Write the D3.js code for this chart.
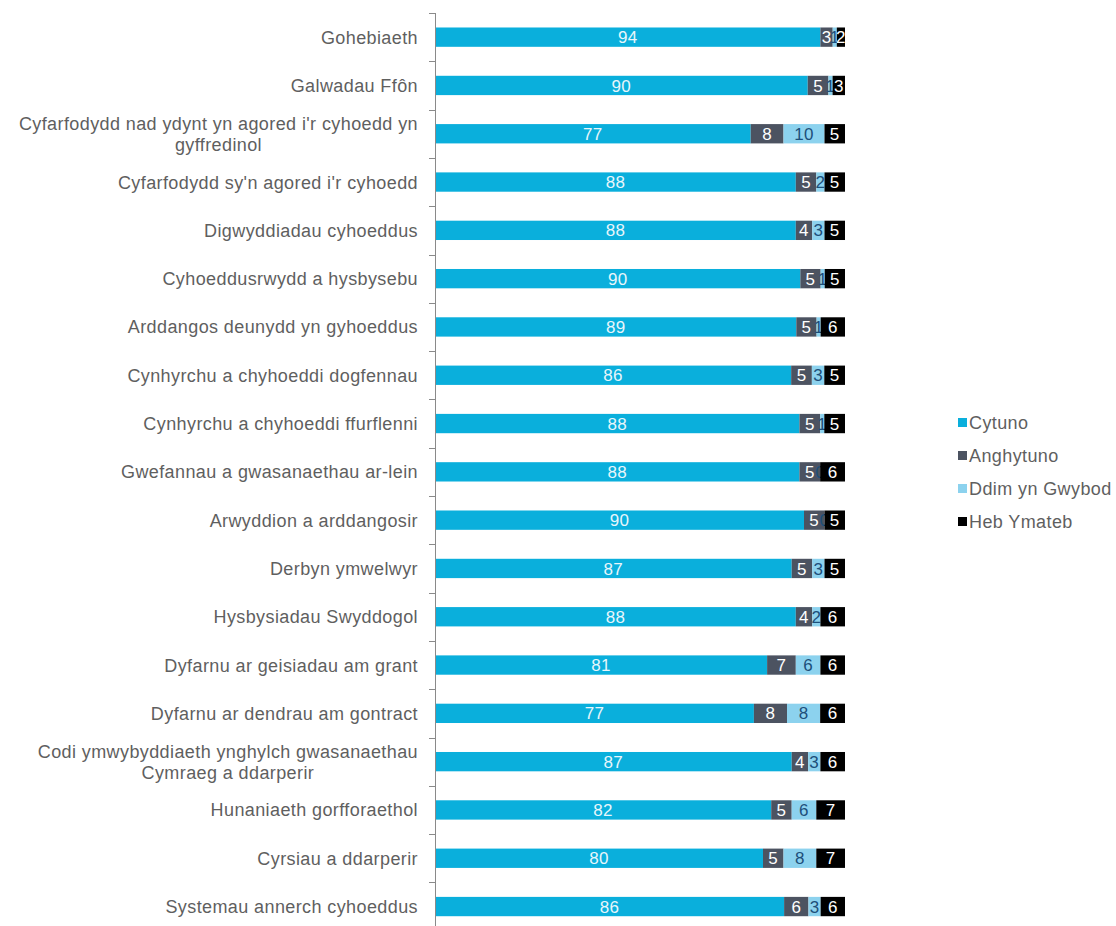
<!DOCTYPE html>
<html>
<head>
<meta charset="utf-8">
<script src="https://cdn.jsdelivr.net/npm/d3@7"></script>
<style>
  body { margin: 0; background: #fff; }
  text { font-family: "Liberation Sans", Arial, sans-serif; }
</style>
</head>
<body>
<svg id="chart" width="1116" height="926"></svg>
<script>
// categories, top to bottom ("\n" marks a line break in the label)
var categories = [
  "Gohebiaeth",
  "Galwadau Ffôn",
  "Cyfarfodydd  nad ydynt yn agored i'r cyhoedd yn\ngyffredinol",
  "Cyfarfodydd sy'n agored i'r cyhoedd",
  "Digwyddiadau cyhoeddus",
  "Cyhoeddusrwydd a hysbysebu",
  "Arddangos deunydd yn gyhoeddus",
  "Cynhyrchu a chyhoeddi dogfennau",
  "Cynhyrchu a chyhoeddi ffurflenni",
  "Gwefannau a gwasanaethau ar-lein",
  "Arwyddion a arddangosir",
  "Derbyn ymwelwyr",
  "Hysbysiadau Swyddogol",
  "Dyfarnu ar geisiadau am grant",
  "Dyfarnu ar dendrau am gontract",
  "Codi ymwybyddiaeth ynghylch gwasanaethau\nCymraeg a ddarperir",
  "Hunaniaeth gorfforaethol",
  "Cyrsiau a ddarperir",
  "Systemau annerch cyhoeddus"
];

var seriesNames = ["Cytuno", "Anghytuno", "Ddim yn Gwybod", "Heb Ymateb"];

var cytuno     = [94, 90, 77, 88, 88, 90, 89, 86, 88, 88, 90, 87, 88, 81, 77, 87, 82, 80, 86];
var anghytuno  = [3, 5, 8, 5, 4, 5, 5, 5, 5, 5, 5, 5, 4, 7, 8, 4, 5, 5, 6];
var ddimGwybod = [1, 1, 10, 2, 3, 1, 1, 3, 1, 0, 0, 3, 2, 6, 8, 3, 6, 8, 3];
var hebYmateb  = [2, 3, 5, 5, 5, 5, 6, 5, 5, 6, 5, 5, 6, 6, 6, 6, 7, 7, 6];

var colors = ["#0aafdc", "#4c5361", "#8cd2ee", "#000000"];
var labelColors = ["#e8f6fb", "#ffffff", "#1d4f7a", "#ffffff"];

var rows = categories.map(function (c, i) {
  return { cat: c, "Cytuno": cytuno[i], "Anghytuno": anghytuno[i],
           "Ddim yn Gwybod": ddimGwybod[i], "Heb Ymateb": hebYmateb[i] };
});

var stack = d3.stack().keys(seriesNames).offset(d3.stackOffsetExpand);
var layers = stack(rows);

var svg = d3.select("#chart");
var axisX = 435;
var fontSize = 18, spacing = 0.4;

var x = d3.scaleLinear().domain([0, 1]).range([axisX, 845]);
var y = d3.scaleBand().domain(categories).range([13, 13 + 48.3 * categories.length]).paddingInner(0.6).paddingOuter(0.3);

// bars + labels, series by series so later segments cover earlier labels
layers.forEach(function (layer, si) {
  var g = svg.append("g");
  layer.forEach(function (d, i) {
    var cat = categories[i];
    var x0 = x(d[0]), x1 = x(d[1]);
    g.append("rect")
      .attr("x", x0)
      .attr("y", y(cat))
      .attr("width", Math.max(0, x1 - x0))
      .attr("height", y.bandwidth())
      .attr("fill", colors[si]);
  });
  layer.forEach(function (d, i) {
    var cat = categories[i];
    g.append("text")
      .attr("x", (x(d[0]) + x(d[1])) / 2)
      .attr("y", y(cat) + y.bandwidth() / 2)
      .attr("dy", "0.36em")
      .attr("text-anchor", "middle")
      .attr("font-size", 17)
      .attr("letter-spacing", 0.3)
      .attr("fill", labelColors[si])
      .text(rows[i][seriesNames[si]]);
  });
});

// axis line and ticks at band boundaries
var step = y.step();
svg.append("line")
  .attr("x1", axisX + 0.5).attr("x2", axisX + 0.5)
  .attr("y1", 13).attr("y2", 926)
  .attr("stroke", "#8a8a8a");
d3.range(categories.length + 1).forEach(function (k) {
  var ty = Math.round(13 + k * step) + 0.5;
  svg.append("line")
    .attr("x1", axisX - 6).attr("x2", axisX)
    .attr("y1", ty).attr("y2", ty)
    .attr("stroke", "#8a8a8a");
});

// category labels
var labelRight = 418;
categories.forEach(function (cat) {
  var lines = cat.split("\n");
  var cy = y(cat) + y.bandwidth() / 2;
  var t = svg.append("text")
    .attr("font-size", fontSize)
    .attr("letter-spacing", spacing)
    .attr("fill", "#5f5f5f");
  if (lines.length === 1) {
    t.attr("x", labelRight).attr("y", cy).attr("dy", "0.36em")
      .attr("text-anchor", "end").text(cat);
  } else {
    // centered block, right edge at labelRight
    var tmp = svg.append("text").attr("font-size", fontSize)
      .attr("letter-spacing", spacing).text(lines[0]);
    var w = tmp.node().getComputedTextLength();
    tmp.remove();
    var cx = labelRight - w / 2;
    t.attr("text-anchor", "middle");
    lines.forEach(function (ln, li) {
      t.append("tspan")
        .attr("x", cx)
        .attr("y", cy + (li - (lines.length - 1) / 2) * 21)
        .attr("dy", "0.36em")
        .text(ln);
    });
  }
});

// legend
var legend = svg.append("g").attr("transform", "translate(958,423)");
seriesNames.forEach(function (name, i) {
  var ly = i * 33;
  legend.append("rect")
    .attr("x", 0).attr("y", ly - 5)
    .attr("width", 9).attr("height", 9)
    .attr("fill", colors[i]);
  legend.append("text")
    .attr("x", 11).attr("y", ly)
    .attr("dy", "0.36em")
    .attr("font-size", fontSize)
    .attr("letter-spacing", spacing)
    .attr("fill", "#5f5f5f")
    .text(name);
});
</script>
</body>
</html>
